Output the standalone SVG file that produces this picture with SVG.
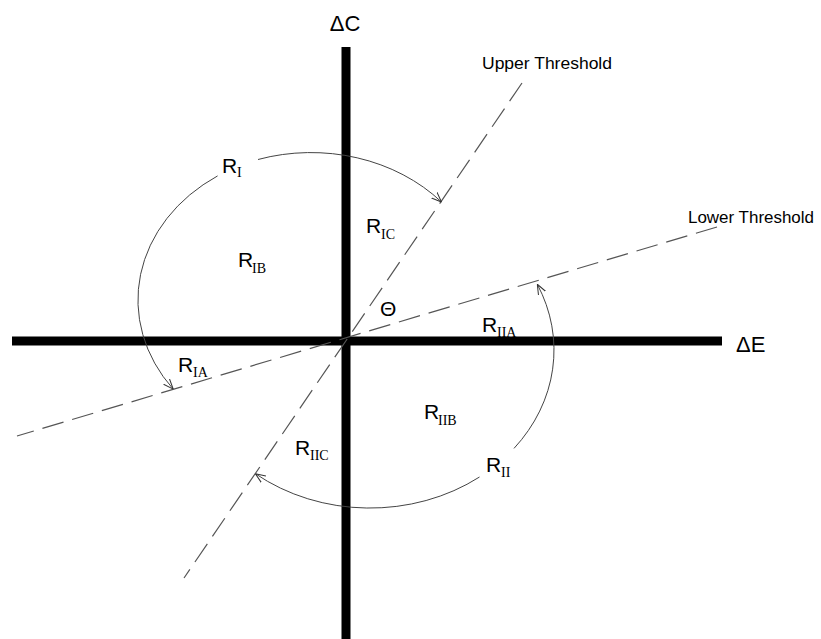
<svg xmlns="http://www.w3.org/2000/svg" width="821" height="639" viewBox="0 0 821 639">
<style>
.axis{stroke:#000;stroke-width:9;fill:none}
.thr{stroke:#555;stroke-width:1.2;stroke-dasharray:22 9;fill:none}
.arc{stroke:#444;stroke-width:1;fill:none}
.big{font-family:"Liberation Sans",Arial,sans-serif;font-size:21px;fill:#000}
.sub{font-family:"Liberation Serif","Times New Roman",serif;font-size:14px;fill:#000}
.ax{font-family:"Liberation Sans",Arial,sans-serif;font-size:22px;fill:#000}
.th{font-family:"Liberation Sans",Arial,sans-serif;font-size:16px;fill:#000}
</style>
<defs>
<marker id="arr" viewBox="0 0 10 10" refX="10" refY="5" markerWidth="10" markerHeight="10" markerUnits="userSpaceOnUse" orient="auto-start-reverse">
<path d="M0,1 L10,5 L0,9" fill="none" stroke="#333" stroke-width="1"/>
</marker>
</defs>
<rect width="821" height="639" fill="#fff"/>
<g id="axes">
<line class="axis" x1="346" y1="47" x2="346" y2="639"/>
<line class="axis" x1="12" y1="341" x2="722" y2="341"/>
</g>
<g id="thresholds">
<line class="thr" x1="522" y1="83" x2="184" y2="578"/>
<line class="thr" x1="717" y1="227" x2="17" y2="436"/>
</g>
<g id="connectors">
<path class="arc" d="M173.2 389.1 A175 148 0 0 1 217.6 175.9" marker-start="url(#arr)"/>
<path class="arc" d="M258 159.5 A175 148 0 0 1 441.5 202" marker-end="url(#arr)"/>
<path class="arc" d="M537.3 284.3 A184 158 0 0 1 514 448.4" marker-start="url(#arr)"/>
<path class="arc" d="M479.5 477 A184 158 0 0 1 255.4 473.7" marker-end="url(#arr)"/>
</g>
<g id="label-dC"><text class="ax" x="345" y="31" text-anchor="middle">ΔC</text></g>
<g id="label-dE"><text class="ax" x="736" y="352">ΔE</text></g>
<g id="label-upper"><text class="th" x="482" y="69" textLength="130" lengthAdjust="spacingAndGlyphs">Upper Threshold</text></g>
<g id="label-lower"><text class="th" x="688" y="223" textLength="126" lengthAdjust="spacingAndGlyphs">Lower Threshold</text></g>
<g id="label-theta"><text class="big" x="380" y="316" font-size="20">Θ</text></g>
<g id="R_I"><text class="big" x="222" y="173">R</text><text class="sub" x="237" y="177">I</text></g>
<g id="R_IB"><text class="big" x="238" y="267">R</text><text class="sub" x="252" y="273">IB</text></g>
<g id="R_IC"><text class="big" x="366" y="233">R</text><text class="sub" x="381" y="239">IC</text></g>
<g id="R_IA"><text class="big" x="178" y="372">R</text><text class="sub" x="193" y="377">IA</text></g>
<g id="R_IIA"><text class="big" x="482" y="332">R</text><text class="sub" x="497" y="337">IIA</text></g>
<g id="R_IIB"><text class="big" x="424" y="419">R</text><text class="sub" x="438" y="425">IIB</text></g>
<g id="R_II"><text class="big" x="486" y="472">R</text><text class="sub" x="501" y="477">II</text></g>
<g id="R_IIC"><text class="big" x="295" y="455">R</text><text class="sub" x="310" y="460">IIC</text></g>
</svg>
